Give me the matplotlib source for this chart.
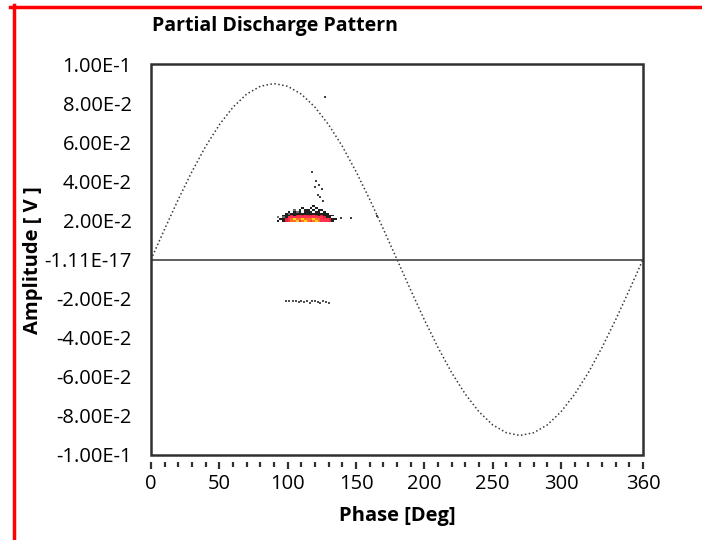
import matplotlib
matplotlib.use("Agg")
import matplotlib.pyplot as plt
import numpy as np
from matplotlib.colors import ListedColormap, BoundaryNorm
from matplotlib.patches import Rectangle
from matplotlib.ticker import FixedLocator, MultipleLocator

plt.rcParams["font.family"] = ["Open Sans", "DejaVu Sans"]

# reference voltage, one value every 10 degrees
ref_phase = list(range(0, 361, 10))
ref_amp = [0.0, 0.0156, 0.0308, 0.045, 0.0579, 0.0689, 0.0779, 0.0846, 0.0886, 0.09,
           0.0886, 0.0846, 0.0779, 0.0689, 0.0579, 0.045, 0.0308, 0.0156, 0.0,
           -0.0156, -0.0308, -0.045, -0.0579, -0.0689, -0.0779, -0.0846, -0.0886, -0.09,
           -0.0886, -0.0846, -0.0779, -0.0689, -0.0579, -0.045, -0.0308, -0.0156, 0.0]

# pulse counts, phase bins 92..136 deg (2 deg), amplitude bins 0.019..0.028 V
cnt_phase_edges = list(range(92, 138, 2))
cnt_amp_edges = [0.019, 0.020, 0.021, 0.022, 0.023, 0.024, 0.025, 0.026, 0.027, 0.028]
counts = [
    [2, 0, 2, 3, 5, 6, 6, 7, 5, 6, 7, 6, 5, 6, 7, 6, 5, 5, 4, 3, 2, 0],
    [0, 2, 2, 3, 4, 6, 7, 6, 6, 7, 6, 6, 6, 7, 6, 6, 5, 4, 4, 3, 2, 2],
    [1, 0, 1, 2, 4, 4, 5, 5, 4, 5, 4, 5, 4, 5, 4, 4, 4, 3, 2, 2, 0, 0],
    [0, 0, 2, 2, 2, 3, 2, 3, 4, 3, 4, 3, 3, 4, 3, 2, 3, 2, 2, 2, 2, 0],
    [0, 0, 0, 2, 1, 2, 2, 2, 2, 2, 2, 2, 2, 2, 2, 2, 2, 2, 2, 0, 0, 0],
    [0, 0, 0, 0, 2, 0, 2, 1, 2, 0, 2, 2, 2, 0, 2, 2, 0, 2, 0, 0, 0, 0],
    [0, 0, 0, 0, 0, 0, 1, 0, 2, 0, 2, 2, 0, 2, 0, 2, 2, 0, 0, 0, 0, 0],
    [0, 0, 0, 0, 0, 0, 0, 0, 0, 2, 0, 0, 2, 0, 2, 0, 0, 0, 0, 0, 0, 0],
    [0, 0, 0, 0, 0, 0, 0, 0, 0, 0, 0, 0, 0, 2, 0, 0, 0, 0, 0, 0, 0, 0],
]

# isolated pulses
pos_phase = [127, 118, 121, 123, 120, 125, 122, 124, 126, 139, 146, 165]
pos_amp = [0.083, 0.045, 0.040, 0.038, 0.037, 0.036, 0.033, 0.032, 0.030, 0.021, 0.021, 0.022]
neg_phase = [99, 101, 104, 106, 108, 110, 112, 114, 116, 118, 120, 122, 124, 126, 128, 130]
neg_amp = [-0.0212, -0.0212, -0.0214, -0.0210, -0.0216, -0.0212, -0.0218, -0.0214,
           -0.0220, -0.0214, -0.0212, -0.0216, -0.0220, -0.0214, -0.0216, -0.0222]

y_ticks = [0.1, 0.08, 0.06, 0.04, 0.02, 0.0, -0.02, -0.04, -0.06, -0.08, -0.1]
y_labels = ["1.00E-1", "8.00E-2", "6.00E-2", "4.00E-2", "2.00E-2", "-1.11E-17",
            "-2.00E-2", "-4.00E-2", "-6.00E-2", "-8.00E-2", "-1.00E-1"]
x_ticks = [0, 50, 100, 150, 200, 250, 300, 360]

fig = plt.figure(figsize=(7.02, 5.40), dpi=100)
ax = fig.add_axes([151 / 702, 85 / 540, 492 / 702, 391 / 540])

ax.plot(ref_phase, ref_amp, color="#3a3a3a", lw=1.1, ls=(0, (1, 1.6)))
ax.axhline(0, color="#505050", lw=1.3)

cmap = ListedColormap(["#ffffff", "#707070", "#202020", "#e8203a", "#ff3050", "#ff7020", "#ffd020"])
norm = BoundaryNorm([0, 0.5, 1.5, 2.5, 3.5, 5.5, 6.5, 8], cmap.N)
ax.pcolormesh(cnt_phase_edges, cnt_amp_edges, np.array(counts), cmap=cmap, norm=norm, zorder=3)

ax.scatter(pos_phase, pos_amp, s=2.5, marker="s", color="#404040", lw=0, zorder=3)
ax.scatter(neg_phase, neg_amp, s=3, marker="s", color="#505050", lw=0, zorder=3)

ax.set_xlim(0, 360)
ax.set_ylim(-0.1, 0.1)

# frame drawn separately so the x ticks can sit below it
for sp in ax.spines.values():
    sp.set_visible(False)
ax.add_patch(Rectangle((0, 0), 1, 1, transform=ax.transAxes, fill=False,
                       ec="#303030", lw=1.8, clip_on=False, zorder=5))
ax.spines["bottom"].set_position(("outward", 5))

ax.xaxis.set_major_locator(FixedLocator(x_ticks))
ax.xaxis.set_minor_locator(MultipleLocator(10))
ax.tick_params(axis="x", which="major", length=5, width=1.6, color="#303030",
               labelsize=14.5, pad=4)
ax.tick_params(axis="x", which="minor", length=3.5, width=1.6, color="#303030")
ax.set_yticks(y_ticks)
ax.set_yticklabels(y_labels)
ax.tick_params(axis="y", length=0, labelsize=14.5, pad=14)

ax.set_xlabel("Phase [Deg]", fontsize=14.5, fontweight="bold", labelpad=8)
fig.text(33 / 702, 1 - 260 / 540, "Amplitude [ V ]", fontsize=14.5, fontweight="bold",
         rotation=90, ha="center", va="center")
fig.text(152 / 702, 1 - 26 / 540, "Partial Discharge Pattern", fontsize=14,
         fontweight="bold", va="center", ha="left")

# red window border
fig.add_artist(plt.Line2D([10 / 702, 1], [1 - 6.5 / 540] * 2, color="red", lw=2.5,
                          transform=fig.transFigure))
fig.add_artist(plt.Line2D([14.5 / 702] * 2, [0, 1 - 5 / 540], color="red", lw=2.5,
                          transform=fig.transFigure))

fig.savefig("out.png", dpi=100)
